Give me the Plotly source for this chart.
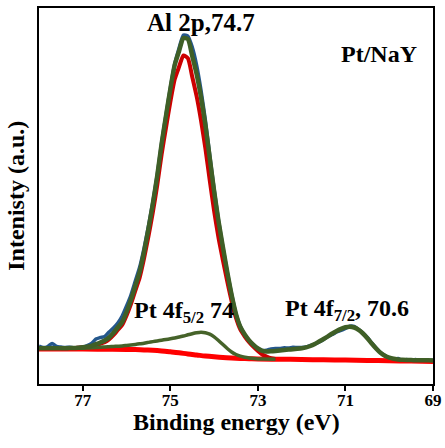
import plotly.graph_objects as go

# ---------------- data ----------------
energy = [round(78.0 - 0.1 * i, 1) for i in range(91)]  # 78.0 ... 69.0 eV grid

raw_counts = [38, 36.5, 37.5, 40.5, 37.5, 37, 36.5, 36.8, 36.2, 36.5,
              37, 38.5, 40.5, 45, 46.5, 47.5, 52, 56, 61, 68,
              78, 89, 103, 117, 136, 158, 182, 209, 241, 269,
              296, 320, 336, 349, 348, 337, 319, 294, 264, 229,
              195, 164, 137, 112, 90, 70, 57.5, 49, 43.5, 39,
              35.5, 33.5, 33.8, 35, 35.6, 35.4, 36.3, 35.9, 36.8, 36.4,
              36.5, 37, 38.5, 40, 42, 44.5, 47.5, 49.5, 52, 53.5,
              55.5, 57.8, 57.5, 54.5, 51, 46.5, 41, 36, 31.5, 28.5,
              25.5, 24.5, 25.5, 23.5, 24.5, 23.3, 24.6, 23.5, 24.2, 23.3, 24]

envelope = [35.8, 35.8, 35.8, 35.8, 35.8, 35.8, 35.8, 35.9, 36.0, 36.3,
            36.7, 37.3, 38.2, 39.8, 41.5, 43.5, 46.5, 51, 56.5, 62,
            72, 84, 98, 112, 132, 155, 180, 208, 240, 268,
            295, 319, 333, 346, 345, 328, 310, 287, 259, 226,
            193, 163, 137, 112, 89, 70, 57, 49.5, 43.5, 39,
            35.5, 33.2, 32.5, 32.7, 33.1, 33.6, 34.0, 34.4, 34.8, 35.2,
            35.7, 36.6, 38, 40, 42.5, 45, 47.7, 50.5, 53, 55.2,
            56.7, 57.3, 56.5, 54.2, 50.5, 45.8, 40.5, 35.5, 31.2, 28.2,
            26.3, 25.2, 24.6, 24.2, 24.0, 23.9, 23.8, 23.8, 23.7, 23.7, 23.6]

al_energy = [round(77.5 - 0.1 * i, 1) for i in range(50)]  # 77.5 ... 72.6
al_2p = [35.8, 35.8, 35.9, 36.0, 36.3, 36.6, 36.9, 37.5, 38.8, 40.2,
         41.8, 44.6, 48.8, 54, 59.1, 68.6, 80, 93.4, 106.6, 125.7,
         147.7, 171.6, 198.5, 229.4, 256.2, 282, 304.7, 317.2, 328.6, 325.8,
         307.2, 287.8, 263.8, 235.7, 203.8, 173, 146.3, 124, 102.6, 82.8,
         66, 54.3, 47.5, 41.8, 37.1, 33, 29.5, 27.4, 25.8, 25.0]

pt5_energy = [78.0, 77.5, 77.0, 76.9, 76.8, 76.7, 76.6, 76.5, 76.4, 76.3,
              76.2, 76.1, 76.0, 75.9, 75.8, 75.7, 75.6, 75.5, 75.4, 75.3,
              75.2, 75.1, 75.0, 74.9, 74.8, 74.7, 74.6, 74.5, 74.4, 74.3,
              74.2, 74.1, 74.0, 73.9, 73.8, 73.7, 73.6, 73.5, 73.4, 73.3,
              73.2, 73.1, 73.0, 72.9, 72.6]
pt_4f52 = [35.8, 35.7, 35.7, 36.0, 36.2, 36.5, 36.7, 37.1, 37.3, 37.5,
           37.8, 38.1, 38.6, 39.1, 39.6, 40.2, 40.8, 41.6, 42.4, 43.1,
           43.8, 44.5, 45.2, 46.0, 47.0, 48.0, 49.2, 50.3, 51.2, 51.7,
           51.3, 49.8, 47.2, 43.5, 39.5, 35.5, 32.0, 29.5, 27.8, 26.7,
           26.0, 25.5, 25.1, 24.95, 24.85]

bg_energy = [78.0, 77.0, 76.5, 76.0, 75.8, 75.6, 75.4, 75.2, 75.0, 74.8,
             74.6, 74.4, 74.2, 74.0, 73.8, 73.6, 73.4, 73.2, 73.0, 72.5,
             72.0, 71.5, 71.0, 70.5, 70.0, 69.5, 69.0]
background = [35.0, 34.9, 34.8, 34.6, 34.4, 34.0, 33.7, 33.1, 32.2, 31.2,
              30.0, 29.0, 28.0, 27.2, 26.5, 26.0, 25.6, 25.3, 25.0, 24.8,
              24.5, 24.2, 24.0, 23.6, 23.3, 22.9, 22.5]

x_ticks = [77, 75, 73, 71, 69]

FONT = "Liberation Serif, Times New Roman, serif"

fig = go.Figure()
fig.add_trace(go.Scatter(x=energy, y=raw_counts, mode="lines", name="Raw",
                         line=dict(color="#24578C", width=3.5, shape="spline", smoothing=0.6)))
fig.add_trace(go.Scatter(x=bg_energy, y=background, mode="lines", name="Background",
                         line=dict(color="#FF0000", width=5, shape="spline")))
fig.add_trace(go.Scatter(x=al_energy, y=al_2p, mode="lines", name="Al 2p",
                         line=dict(color="#CC0000", width=4, shape="spline", smoothing=0.6)))
fig.add_trace(go.Scatter(x=pt5_energy, y=pt_4f52, mode="lines", name="Pt 4f5/2",
                         line=dict(color="#46632A", width=3.5, shape="spline", smoothing=0.6)))
fig.add_trace(go.Scatter(x=energy, y=envelope, mode="lines", name="Envelope",
                         line=dict(color="#3F5F26", width=4.5, shape="spline", smoothing=0.6)))

ann_font = dict(family=FONT, size=24, color="black")
annotations = [
    dict(x=74.31, y=362, text="<b>Al 2p,74.7</b>", xanchor="center", yanchor="middle",
         font=dict(family=FONT, size=25, color="black")),
    dict(x=70.24, y=330, text="<b>Pt/NaY</b>", xanchor="center", yanchor="middle"),
    dict(x=75.88, y=72, text="<b>Pt 4f<sub>5/2</sub> 74</b>", xanchor="left", yanchor="middle"),
    dict(x=72.42, y=74, text="<b>Pt 4f<sub>7/2</sub>, 70.6</b>", xanchor="left", yanchor="middle"),
]
for a in annotations:
    a.update(xref="x", yref="y", showarrow=False)
    a.setdefault("font", ann_font)

# axis titles placed as paper annotations for exact positioning
annotations.append(dict(xref="paper", yref="paper", x=0.5, y=-0.100, xanchor="center", yanchor="middle",
                        text="<b>Binding energy (eV)</b>", showarrow=False, font=ann_font))
annotations.append(dict(xref="paper", yref="paper", x=-0.059, y=0.5, xanchor="center", yanchor="middle",
                        textangle=-90, text="<b>Intenisty (a.u.)</b>", showarrow=False, font=ann_font))

fig.update_layout(
    width=445, height=448,
    margin=dict(l=39, r=12, t=8, b=64, autoexpand=False),
    paper_bgcolor="white", plot_bgcolor="white",
    showlegend=False,
    annotations=annotations,
    font=dict(family=FONT, color="black"),
)
fig.update_xaxes(
    automargin=False,
    range=[78.0, 69.0], tickvals=x_ticks, ticktext=[f"<b>{t}</b>" for t in x_ticks],
    ticks="outside", ticklen=5, tickwidth=2, tickcolor="black",
    tickfont=dict(family=FONT, size=17, color="black"), ticklabelstandoff=-5,
    showline=True, linecolor="black", linewidth=2, mirror=True,
    showgrid=False, zeroline=False,
)
fig.update_yaxes(
    automargin=False,
    range=[0, 376], showticklabels=False, ticks="",
    showline=True, linecolor="black", linewidth=2, mirror=True,
    showgrid=False, zeroline=False,
)

fig.write_html("out.html", config={"displayModeBar": False},
               post_script="document.body.style.margin='0px';")
